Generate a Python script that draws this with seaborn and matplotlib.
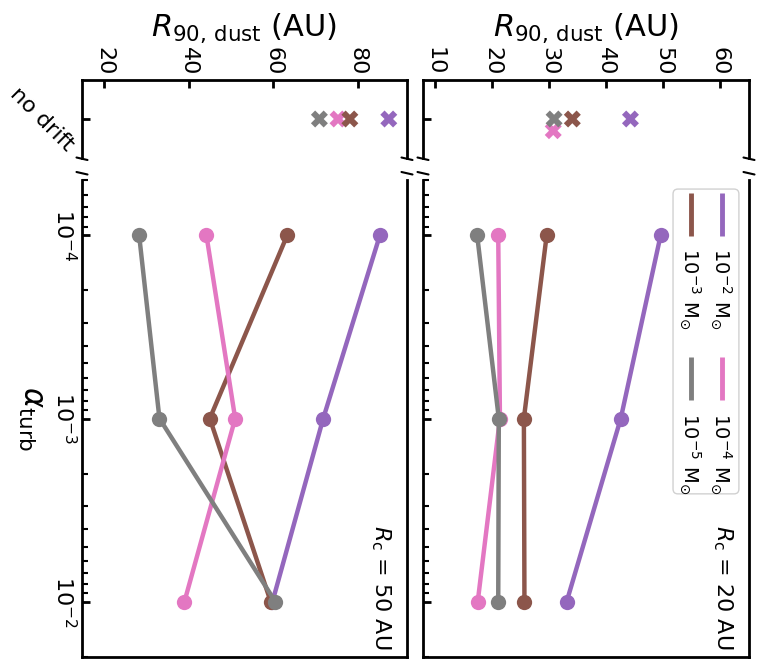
import numpy as np
import pandas as pd
import matplotlib
matplotlib.use("Agg")
import matplotlib.pyplot as plt
import matplotlib.patches as mpatches
import seaborn as sns

# alpha_turb values of the drift runs
alpha_turb = [1e-4, 1e-3, 1e-2]

# disc masses (legend labels) and colours
mass_labels = [r"$10^{-2}\ \mathrm{M}_{\odot}$", r"$10^{-3}\ \mathrm{M}_{\odot}$",
               r"$10^{-4}\ \mathrm{M}_{\odot}$", r"$10^{-5}\ \mathrm{M}_{\odot}$"]
mass_colors = ["#9467bd", "#8c564b", "#e377c2", "#7f7f7f"]

# R_90,dust (AU) for R_c = 20 AU, one list per disc mass
rc20_m2 = [49.6, 42.6, 33.1]
rc20_m3 = [29.6, 25.6, 25.7]
rc20_m4 = [21.1, 21.4, 17.5]
rc20_m5 = [17.4, 21.2, 21.1]
rc20_nodrift = [44.3, 34.1, 30.75, 30.9]

# R_90,dust (AU) for R_c = 50 AU
rc50_m2 = [85.2, 71.8, 59.8]
rc50_m3 = [63.3, 45.0, 59.4]
rc50_m4 = [44.2, 51.0, 39.0]
rc50_m5 = [28.3, 33.1, 60.5]
rc50_nodrift = [87.3, 78.1, 75.3, 70.9]

# row position of the no-drift crosses (pink shifted in the 20 AU panel)
rc20_nodrift_pos = [0, 0, 0.3, 0]
rc50_nodrift_pos = [0, 0, 0, 0]

sns.set_style("ticks")
plt.rcParams["font.family"] = ["DejaVu Sans"]
plt.rcParams["axes.linewidth"] = 2
for key in ["text.color", "axes.edgecolor", "axes.labelcolor", "xtick.color", "ytick.color"]:
    plt.rcParams[key] = "black"


def drift_frame(series):
    rows = []
    for label, vals in zip(mass_labels, series):
        for a, r in zip(alpha_turb, vals):
            rows.append({"mass": label, "alpha": a, "R90": r})
    return pd.DataFrame(rows)


def nodrift_frame(vals, pos):
    df = pd.DataFrame({"mass": mass_labels, "R90": vals, "pos": pos})
    # draw order: purple, pink, brown, gray
    return df.iloc[[0, 2, 1, 3]]


palette = dict(zip(mass_labels, mass_colors))

fig = plt.figure(figsize=(7.59, 6.61), dpi=100)
W, H = 759.0, 661.0

panels = [
    dict(left=82, width=325, series=[rc50_m2, rc50_m3, rc50_m4, rc50_m5],
         nd=rc50_nodrift, nd_pos=rc50_nodrift_pos, xlim=(14.8, 91.6),
         xticks=[20, 40, 60, 80], rc="50", first=True),
    dict(left=423, width=326, series=[rc20_m2, rc20_m3, rc20_m4, rc20_m5],
         nd=rc20_nodrift, nd_pos=rc20_nodrift_pos, xlim=(7.9, 65.1),
         xticks=[10, 20, 30, 40, 50, 60], rc="20", first=False),
]

nd_top, nd_bot = 80, 158
main_top, main_bot = 180, 657

for p in panels:
    ax_nd = fig.add_axes([p["left"] / W, 1 - nd_bot / H, p["width"] / W, (nd_bot - nd_top) / H])
    ax = fig.add_axes([p["left"] / W, 1 - main_bot / H, p["width"] / W, (main_bot - main_top) / H],
                      sharex=ax_nd)

    # no-drift crosses
    sns.scatterplot(data=nodrift_frame(p["nd"], p["nd_pos"]), x="R90", y="pos", hue="mass",
                    palette=palette, marker="X", s=150, linewidth=0, legend=False,
                    ax=ax_nd, zorder=3)
    ax_nd.set_ylim(1, -1)
    ax_nd.set_yticks([0])
    ax_nd.set_yticklabels(["no drift"] if p["first"] else [""])
    ax_nd.tick_params(axis="y", direction="in", left=True, right=False, length=6, width=2,
                      labelsize=16, labelrotation=-45)
    for t in ax_nd.yaxis.get_major_ticks():
        t.label1.set_va("center")
    ax_nd.xaxis.tick_top()
    ax_nd.xaxis.set_label_position("top")
    ax_nd.tick_params(axis="x", direction="in", top=True, bottom=False, length=6, width=2,
                      labelsize=16, labelrotation=-90, labeltop=True, labelbottom=False,
                      pad=3)
    ax_nd.spines["bottom"].set_visible(False)
    ax_nd.set_xlabel(r"$R_{90,\,\mathrm{dust}}$ (AU)", fontsize=22, labelpad=8)
    ax_nd.set_ylabel("")

    # drift runs
    ax.set_yscale("log")
    sns.lineplot(data=drift_frame(p["series"]), x="R90", y="alpha", hue="mass",
                 hue_order=mass_labels, palette=palette, sort=False, estimator=None,
                 marker="o", markersize=11, markeredgewidth=0, linewidth=3.2,
                 legend=False, ax=ax)
    ax.set_ylim(2e-2, 5e-5)
    ax.set_xlim(*p["xlim"])
    ax_nd.set_xticks(p["xticks"])
    ax.spines["top"].set_visible(False)
    ax.tick_params(axis="x", which="both", top=False, bottom=False, labeltop=False,
                   labelbottom=False)
    ax.tick_params(axis="y", which="major", direction="in", left=True, right=False,
                   length=6, width=2, labelsize=16, labelrotation=-90,
                   labelleft=p["first"])
    ax.tick_params(axis="y", which="minor", direction="in", left=True, right=False,
                   length=4, width=1.5)
    for t in ax.yaxis.get_major_ticks():
        t.label1.set_va("center")
    ax.set_xlabel("")
    if p["first"]:
        ax.set_ylabel(r"$\alpha_{\mathrm{turb}}$", fontsize=22, rotation=-90, va="top",
                      labelpad=5)
    else:
        ax.set_ylabel("")

    ax.text(0.957, 0.015, r"$R_{\mathrm{c}}$ = " + p["rc"] + " AU", transform=ax.transAxes,
            rotation=-90, ha="right", va="bottom", fontsize=16)

    # broken-axis marks
    dx = 5.5 / p["width"]
    nd_h = nd_bot - nd_top
    m_h = main_bot - main_top
    for xc in (0, 1):
        ax_nd.plot([xc - dx, xc + dx], [0.5 / nd_h, -2.0 / nd_h], transform=ax_nd.transAxes,
                   color="k", lw=1.5, clip_on=False)
        ax.plot([xc - dx, xc + dx], [1 + 8.0 / m_h, 1 + 5.5 / m_h], transform=ax.transAxes,
                color="k", lw=1.5, clip_on=False)

    if not p["first"]:
        # legend drawn rotated, two columns
        box = mpatches.FancyBboxPatch((0.767, 0.342), 0.202, 0.639,
                                      boxstyle="round,pad=0,rounding_size=0.015",
                                      mutation_aspect=326 / 477, transform=ax.transAxes,
                                      facecolor="white", edgecolor="#cccccc", lw=1,
                                      alpha=0.9, zorder=6)
        ax.add_patch(box)
        col_x = [0.917, 0.822, 0.917, 0.822]
        handle_top = [0.973, 0.973, 0.629, 0.629]
        handle_bot = [0.883, 0.883, 0.539, 0.539]
        text_top = [0.857, 0.857, 0.512, 0.512]
        for lab, col, hx, ht, hb, tt in zip(mass_labels, mass_colors, col_x, handle_top,
                                            handle_bot, text_top):
            ax.plot([hx, hx], [ht, hb], transform=ax.transAxes, color=col, lw=3.5,
                    solid_capstyle="butt", zorder=7, clip_on=False)
            ax.text(hx - 0.003, tt, lab, transform=ax.transAxes, rotation=-90, ha="center",
                    va="top", fontsize=14, zorder=7)

fig.savefig("out.png", dpi=100)
